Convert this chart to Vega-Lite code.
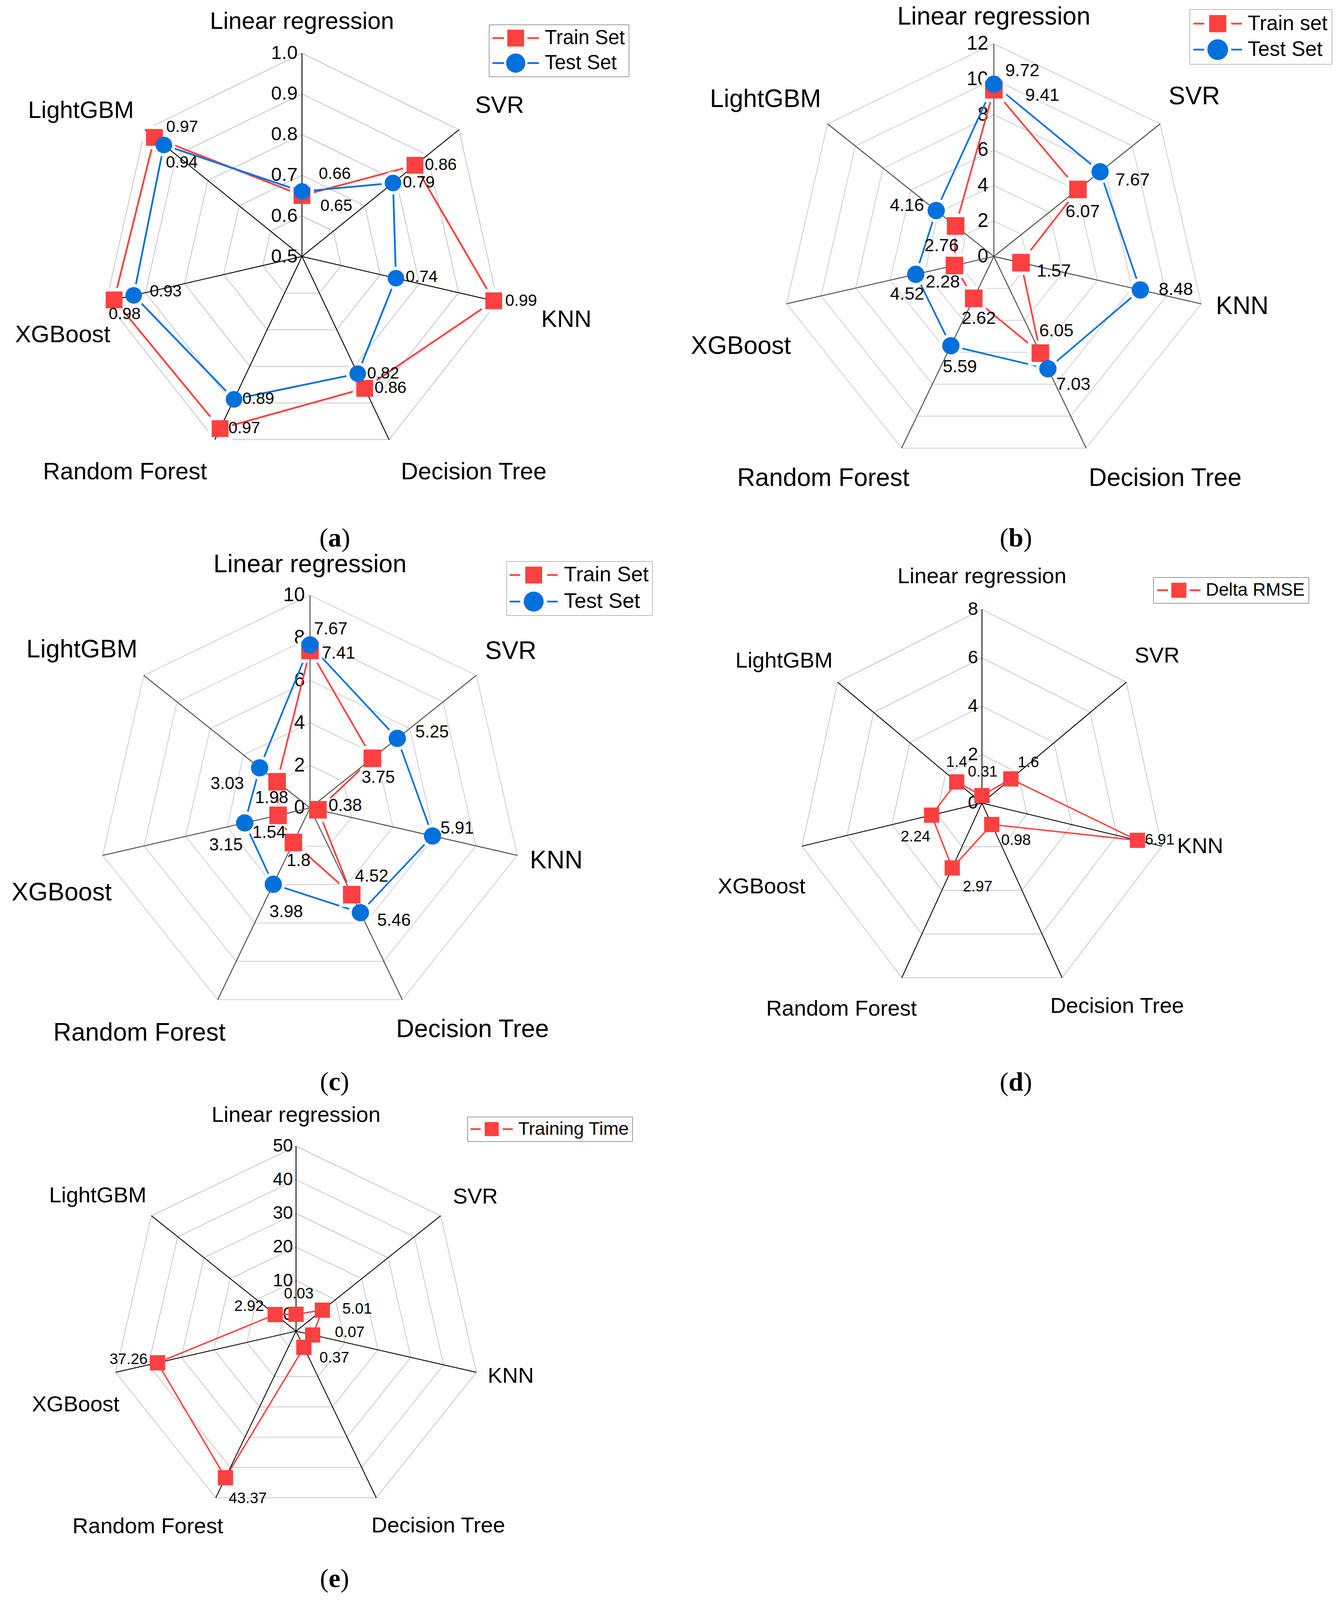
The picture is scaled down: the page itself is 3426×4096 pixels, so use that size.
{
"$schema":"https://vega.github.io/schema/vega-lite/v6.json",
"background":"white",
"padding":0,
"spacing":0,
"columns":2,
"bounds":"flush",
"config":{"view":{"stroke":null},"font":"Liberation Sans"},
"resolve":{"scale":{"color":"independent","shape":"independent"},"legend":{"color":"independent","shape":"independent"}},
"datasets":{
"models":[{"model":"Linear regression"},{"model":"SVR"},{"model":"KNN"},{"model":"Decision Tree"},{"model":"Random Forest"},{"model":"XGBoost"},{"model":"LightGBM"}],
"ta":[{"tick":0.5,"k":[0,1,2,3,4,5,6]},{"tick":0.6,"k":[0,1,2,3,4,5,6]},{"tick":0.7,"k":[0,1,2,3,4,5,6]},{"tick":0.8,"k":[0,1,2,3,4,5,6]},{"tick":0.9,"k":[0,1,2,3,4,5,6]},{"tick":1.0,"k":[0,1,2,3,4,5,6]}],
"tb":[{"tick":0,"k":[0,1,2,3,4,5,6]},{"tick":2,"k":[0,1,2,3,4,5,6]},{"tick":4,"k":[0,1,2,3,4,5,6]},{"tick":6,"k":[0,1,2,3,4,5,6]},{"tick":8,"k":[0,1,2,3,4,5,6]},{"tick":10,"k":[0,1,2,3,4,5,6]},{"tick":12,"k":[0,1,2,3,4,5,6]}],
"tc":[{"tick":0,"k":[0,1,2,3,4,5,6]},{"tick":2,"k":[0,1,2,3,4,5,6]},{"tick":4,"k":[0,1,2,3,4,5,6]},{"tick":6,"k":[0,1,2,3,4,5,6]},{"tick":8,"k":[0,1,2,3,4,5,6]},{"tick":10,"k":[0,1,2,3,4,5,6]}],
"td":[{"tick":0,"k":[0,1,2,3,4,5,6]},{"tick":2,"k":[0,1,2,3,4,5,6]},{"tick":4,"k":[0,1,2,3,4,5,6]},{"tick":6,"k":[0,1,2,3,4,5,6]},{"tick":8,"k":[0,1,2,3,4,5,6]}],
"te":[{"tick":0,"k":[0,1,2,3,4,5,6]},{"tick":10,"k":[0,1,2,3,4,5,6]},{"tick":20,"k":[0,1,2,3,4,5,6]},{"tick":30,"k":[0,1,2,3,4,5,6]},{"tick":40,"k":[0,1,2,3,4,5,6]},{"tick":50,"k":[0,1,2,3,4,5,6]}],
"a":[
{"model":"Linear regression","series":"Train Set","value":0.65},{"model":"SVR","series":"Train Set","value":0.86},{"model":"KNN","series":"Train Set","value":0.99},{"model":"Decision Tree","series":"Train Set","value":0.86},{"model":"Random Forest","series":"Train Set","value":0.97},{"model":"XGBoost","series":"Train Set","value":0.98},{"model":"LightGBM","series":"Train Set","value":0.97},
{"model":"Linear regression","series":"Test Set","value":0.66},{"model":"SVR","series":"Test Set","value":0.79},{"model":"KNN","series":"Test Set","value":0.74},{"model":"Decision Tree","series":"Test Set","value":0.82},{"model":"Random Forest","series":"Test Set","value":0.89},{"model":"XGBoost","series":"Test Set","value":0.93},{"model":"LightGBM","series":"Test Set","value":0.94}],
"b":[
{"model":"Linear regression","series":"Train set","value":9.41},{"model":"SVR","series":"Train set","value":6.07},{"model":"KNN","series":"Train set","value":1.57},{"model":"Decision Tree","series":"Train set","value":6.05},{"model":"Random Forest","series":"Train set","value":2.62},{"model":"XGBoost","series":"Train set","value":2.28},{"model":"LightGBM","series":"Train set","value":2.76},
{"model":"Linear regression","series":"Test Set","value":9.72},{"model":"SVR","series":"Test Set","value":7.67},{"model":"KNN","series":"Test Set","value":8.48},{"model":"Decision Tree","series":"Test Set","value":7.03},{"model":"Random Forest","series":"Test Set","value":5.59},{"model":"XGBoost","series":"Test Set","value":4.52},{"model":"LightGBM","series":"Test Set","value":4.16}],
"c":[
{"model":"Linear regression","series":"Train Set","value":7.41},{"model":"SVR","series":"Train Set","value":3.75},{"model":"KNN","series":"Train Set","value":0.38},{"model":"Decision Tree","series":"Train Set","value":4.52},{"model":"Random Forest","series":"Train Set","value":1.8},{"model":"XGBoost","series":"Train Set","value":1.54},{"model":"LightGBM","series":"Train Set","value":1.98},
{"model":"Linear regression","series":"Test Set","value":7.67},{"model":"SVR","series":"Test Set","value":5.25},{"model":"KNN","series":"Test Set","value":5.91},{"model":"Decision Tree","series":"Test Set","value":5.46},{"model":"Random Forest","series":"Test Set","value":3.98},{"model":"XGBoost","series":"Test Set","value":3.15},{"model":"LightGBM","series":"Test Set","value":3.03}],
"d":[
{"model":"Linear regression","series":"Delta RMSE","value":0.31},{"model":"SVR","series":"Delta RMSE","value":1.6},{"model":"KNN","series":"Delta RMSE","value":6.91},{"model":"Decision Tree","series":"Delta RMSE","value":0.98},{"model":"Random Forest","series":"Delta RMSE","value":2.97},{"model":"XGBoost","series":"Delta RMSE","value":2.24},{"model":"LightGBM","series":"Delta RMSE","value":1.4}],
"e":[
{"model":"Linear regression","series":"Training Time","value":0.03},{"model":"SVR","series":"Training Time","value":5.01},{"model":"KNN","series":"Training Time","value":0.07},{"model":"Decision Tree","series":"Training Time","value":0.37},{"model":"Random Forest","series":"Training Time","value":43.37},{"model":"XGBoost","series":"Training Time","value":37.26},{"model":"LightGBM","series":"Training Time","value":2.92}]
},
"concat":[
{"width":1713,"height":1420,
"encoding":{"x":{"field":"px","type":"quantitative","scale":{"domain":[-1.5043,1.8284],"nice":false,"zero":false},"axis":null},"y":{"field":"py","type":"quantitative","scale":{"domain":[-1.4672,1.262],"nice":false,"zero":false},"axis":null}},
"layer":[
{"data":{"name":"ta"},"transform":[{"filter":"datum.tick>0.55"},{"flatten":["k"]},{"calculate":"(datum.tick-0.5)/0.5","as":"rn"},{"calculate":"datum.rn*sin(2*PI*datum.k/7)","as":"px"},{"calculate":"datum.rn*cos(2*PI*datum.k/7)","as":"py"}],"mark":{"type":"line","interpolate":"linear-closed","color":"#a6a6a6","strokeWidth":1.3},"encoding":{"detail":{"field":"tick","type":"nominal"},"order":{"field":"k","type":"quantitative"}}},
{"data":{"name":"ta"},"transform":[{"calculate":"0","as":"px"},{"calculate":"(datum.tick-0.5)/0.5","as":"py"}],"mark":{"type":"text","align":"right","baseline":"middle","dx":-11,"fontSize":49,"font":"Liberation Sans","color":"black"},"encoding":{"text":{"field":"tick","type":"quantitative","format":".1f"}}},
{"data":{"name":"a"},"transform":[{"filter":"datum.series==='Train Set'"},{"calculate":"indexof(['Linear regression','SVR','KNN','Decision Tree','Random Forest','XGBoost','LightGBM'],datum.model)","as":"k"},{"calculate":"(datum.value-0.5)/0.5","as":"rn"},{"calculate":"datum.rn*sin(2*PI*datum.k/7)","as":"px"},{"calculate":"datum.rn*cos(2*PI*datum.k/7)","as":"py"}],"mark":{"type":"line","interpolate":"linear-closed","strokeWidth":4.5,"color":"#ff4040"},"encoding":{"order":{"field":"k","type":"quantitative"}}},
{"data":{"name":"a"},"transform":[{"filter":"datum.series==='Test Set'"},{"calculate":"indexof(['Linear regression','SVR','KNN','Decision Tree','Random Forest','XGBoost','LightGBM'],datum.model)","as":"k"},{"calculate":"(datum.value-0.5)/0.5","as":"rn"},{"calculate":"datum.rn*sin(2*PI*datum.k/7)","as":"px"},{"calculate":"datum.rn*cos(2*PI*datum.k/7)","as":"py"}],"mark":{"type":"line","interpolate":"linear-closed","strokeWidth":4.5,"color":"#0070dd"},"encoding":{"order":{"field":"k","type":"quantitative"}}},
{"data":{"name":"a"},"transform":[{"filter":"datum.series==='Train Set'"},{"calculate":"indexof(['Linear regression','SVR','KNN','Decision Tree','Random Forest','XGBoost','LightGBM'],datum.model)","as":"k"},{"calculate":"(datum.value-0.5)/0.5","as":"rn"},{"calculate":"datum.rn*sin(2*PI*datum.k/7)","as":"px"},{"calculate":"datum.rn*cos(2*PI*datum.k/7)","as":"py"}],"mark":{"type":"point","shape":"square","filled":true,"opacity":1,"color":"white","size":3700,"strokeWidth":0}},
{"data":{"name":"a"},"transform":[{"filter":"datum.series==='Test Set'"},{"calculate":"indexof(['Linear regression','SVR','KNN','Decision Tree','Random Forest','XGBoost','LightGBM'],datum.model)","as":"k"},{"calculate":"(datum.value-0.5)/0.5","as":"rn"},{"calculate":"datum.rn*sin(2*PI*datum.k/7)","as":"px"},{"calculate":"datum.rn*cos(2*PI*datum.k/7)","as":"py"}],"mark":{"type":"point","shape":"circle","filled":true,"opacity":1,"color":"white","size":3450,"strokeWidth":0}},
{"data":{"name":"models"},"transform":[{"calculate":"indexof(['Linear regression','SVR','KNN','Decision Tree','Random Forest','XGBoost','LightGBM'],datum.model)","as":"k"},{"calculate":"0","as":"px"},{"calculate":"0","as":"py"},{"calculate":"sin(2*PI*datum.k/7)","as":"px2"},{"calculate":"cos(2*PI*datum.k/7)","as":"py2"}],"mark":{"type":"rule","color":"black","strokeWidth":2.3},"encoding":{"x2":{"field":"px2"},"y2":{"field":"py2"}}},
{"data":{"name":"a"},"transform":[{"filter":"datum.series==='Train Set'"},{"calculate":"indexof(['Linear regression','SVR','KNN','Decision Tree','Random Forest','XGBoost','LightGBM'],datum.model)","as":"k"},{"calculate":"(datum.value-0.5)/0.5","as":"rn"},{"calculate":"datum.rn*sin(2*PI*datum.k/7)","as":"px"},{"calculate":"datum.rn*cos(2*PI*datum.k/7)","as":"py"}],"mark":{"type":"point","shape":"square","filled":true,"opacity":1,"color":"#ff4040","size":1850,"strokeWidth":0}},
{"data":{"name":"a"},"transform":[{"filter":"datum.series==='Test Set'"},{"calculate":"indexof(['Linear regression','SVR','KNN','Decision Tree','Random Forest','XGBoost','LightGBM'],datum.model)","as":"k"},{"calculate":"(datum.value-0.5)/0.5","as":"rn"},{"calculate":"datum.rn*sin(2*PI*datum.k/7)","as":"px"},{"calculate":"datum.rn*cos(2*PI*datum.k/7)","as":"py"}],"mark":{"type":"point","shape":"circle","filled":true,"opacity":1,"color":"#0070dd","size":1810,"strokeWidth":0}},
{"data":{"name":"a"},"transform":[{"filter":"false"},{"calculate":"0","as":"px"},{"calculate":"0","as":"py"}],"mark":{"type":"point","filled":true,"opacity":1,"strokeWidth":0},"encoding":{
"color":{"field":"series","type":"nominal","scale":{"domain":["Train Set","Test Set"],"range":["#ff4040","#0070dd"]},"legend":{"orient":"none","legendX":1252,"legendY":63,"title":null,"symbolSize":2601,"symbolOffset":34,"symbolStrokeWidth":0,"symbolOpacity":1,"labelFont":"Liberation Sans","labelFontSize":51,"labelColor":"black","labelOffset":49,"labelLimit":1000,"padding":9,"rowPadding":12,"strokeColor":"#404040","fillColor":"white"}},
"shape":{"field":"series","type":"nominal","scale":{"domain":["Train Set","Test Set"],"range":["M-2.333,-0.089H-1.167V0.089H-2.333Z M-0.842,-0.842H0.842V0.842H-0.842Z M1.167,-0.089H2.333V0.089H1.167Z","M-2.333,-0.089H-1.167V0.089H-2.333Z M1.167,-0.089H2.333V0.089H1.167Z M-0.961,0A0.961,0.961,0,1,0,0.961,0A0.961,0.961,0,1,0,-0.961,0Z"]},"legend":{"orient":"none","legendX":1252,"legendY":63,"title":null,"symbolSize":2601,"symbolOffset":34,"symbolStrokeWidth":0,"symbolOpacity":1,"labelFont":"Liberation Sans","labelFontSize":51,"labelColor":"black","labelOffset":49,"labelLimit":1000,"padding":9,"rowPadding":12,"strokeColor":"#404040","fillColor":"white"}}}},
{"data":{"name":"a"},"transform":[{"calculate":"indexof(['Linear regression','SVR','KNN','Decision Tree','Random Forest','XGBoost','LightGBM'],datum.model)","as":"k"},{"calculate":"(datum.value-0.5)/0.5","as":"rn"},{"calculate":"datum.rn*sin(2*PI*datum.k/7)","as":"bx"},{"calculate":"datum.rn*cos(2*PI*datum.k/7)","as":"by"},{"calculate":"datum.k+(datum.series==='Test Set'?7:0)","as":"i"},{"calculate":"datum.bx+[88,66,70,66,62,27,71,84,66,66,65,62,82,46][datum.i]/514.0","as":"px"},{"calculate":"datum.by-[26,-1,0,-1,-1,36,-27,-45,-1,-3,-1,-1,-10,45][datum.i]/520.3","as":"py"}],"mark":{"type":"text","fontSize":42,"font":"Liberation Sans","color":"black"},"encoding":{"text":{"field":"value","type":"nominal"}}},
{"data":{"name":"models"},"transform":[{"calculate":"indexof(['Linear regression','SVR','KNN','Decision Tree','Random Forest','XGBoost','LightGBM'],datum.model)","as":"k"},{"calculate":"[0,0.9843,1.3171,0.8554,-0.8815,-1.1916,-1.101][datum.k]","as":"px"},{"calculate":"[1.1552,0.7414,-0.3121,-1.0621,-1.0621,-0.3879,0.7155][datum.k]","as":"py"}],"mark":{"type":"text","fontSize":61,"font":"Liberation Sans","color":"black"},"encoding":{"text":{"field":"model","type":"nominal"}}},
{"data":{"values":[{"caption":"a"}]},"transform":[{"calculate":"0.1637","as":"px"},{"calculate":"-1.4274","as":"py"}],"mark":{"type":"text","font":"Liberation Serif","fontSize":68,"fontWeight":"bold","baseline":"alphabetic","align":"center","color":"black"},"encoding":{"text":{"field":"caption","type":"nominal"}}},
{"data":{"values":[{"caption":"a"}]},"transform":[{"calculate":"0.1637","as":"px"},{"calculate":"-1.4274","as":"py"}],"mark":{"type":"text","font":"Liberation Serif","fontSize":68,"baseline":"alphabetic","align":"right","dx":-17,"color":"black"},"encoding":{"text":{"value":"("}}},
{"data":{"values":[{"caption":"a"}]},"transform":[{"calculate":"0.1637","as":"px"},{"calculate":"-1.4274","as":"py"}],"mark":{"type":"text","font":"Liberation Serif","fontSize":68,"baseline":"alphabetic","align":"left","dx":17,"color":"black"},"encoding":{"text":{"value":")"}}}
]},
{"width":1713,"height":1420,
"encoding":{"x":{"field":"px","type":"quantitative","scale":{"domain":[-1.5276,1.6184],"nice":false,"zero":false},"axis":null},"y":{"field":"py","type":"quantitative","scale":{"domain":[-1.402,1.2059],"nice":false,"zero":false},"axis":null}},
"layer":[
{"data":{"name":"tb"},"transform":[{"filter":"datum.tick>0"},{"flatten":["k"]},{"calculate":"datum.tick/12","as":"rn"},{"calculate":"datum.rn*sin(2*PI*datum.k/7)","as":"px"},{"calculate":"datum.rn*cos(2*PI*datum.k/7)","as":"py"}],"mark":{"type":"line","interpolate":"linear-closed","color":"#d4d4d4","strokeWidth":2.4},"encoding":{"detail":{"field":"tick","type":"nominal"},"order":{"field":"k","type":"quantitative"}}},
{"data":{"name":"tb"},"transform":[{"calculate":"0","as":"px"},{"calculate":"datum.tick/12","as":"py"}],"mark":{"type":"text","align":"right","baseline":"middle","dx":-14,"fontSize":50,"font":"Liberation Sans","color":"black"},"encoding":{"text":{"field":"tick","type":"quantitative","format":"d"}}},
{"data":{"name":"b"},"transform":[{"filter":"datum.series==='Train set'"},{"calculate":"indexof(['Linear regression','SVR','KNN','Decision Tree','Random Forest','XGBoost','LightGBM'],datum.model)","as":"k"},{"calculate":"datum.value/12","as":"rn"},{"calculate":"datum.rn*sin(2*PI*datum.k/7)","as":"px"},{"calculate":"datum.rn*cos(2*PI*datum.k/7)","as":"py"}],"mark":{"type":"line","interpolate":"linear-closed","strokeWidth":4.2,"color":"#ff4040"},"encoding":{"order":{"field":"k","type":"quantitative"}}},
{"data":{"name":"b"},"transform":[{"filter":"datum.series==='Test Set'"},{"calculate":"indexof(['Linear regression','SVR','KNN','Decision Tree','Random Forest','XGBoost','LightGBM'],datum.model)","as":"k"},{"calculate":"datum.value/12","as":"rn"},{"calculate":"datum.rn*sin(2*PI*datum.k/7)","as":"px"},{"calculate":"datum.rn*cos(2*PI*datum.k/7)","as":"py"}],"mark":{"type":"line","interpolate":"linear-closed","strokeWidth":4.2,"color":"#0070dd"},"encoding":{"order":{"field":"k","type":"quantitative"}}},
{"data":{"name":"b"},"transform":[{"filter":"datum.series==='Train set'"},{"calculate":"indexof(['Linear regression','SVR','KNN','Decision Tree','Random Forest','XGBoost','LightGBM'],datum.model)","as":"k"},{"calculate":"datum.value/12","as":"rn"},{"calculate":"datum.rn*sin(2*PI*datum.k/7)","as":"px"},{"calculate":"datum.rn*cos(2*PI*datum.k/7)","as":"py"}],"mark":{"type":"point","shape":"square","filled":true,"opacity":1,"color":"white","size":3970,"strokeWidth":0}},
{"data":{"name":"b"},"transform":[{"filter":"datum.series==='Test Set'"},{"calculate":"indexof(['Linear regression','SVR','KNN','Decision Tree','Random Forest','XGBoost','LightGBM'],datum.model)","as":"k"},{"calculate":"datum.value/12","as":"rn"},{"calculate":"datum.rn*sin(2*PI*datum.k/7)","as":"px"},{"calculate":"datum.rn*cos(2*PI*datum.k/7)","as":"py"}],"mark":{"type":"point","shape":"circle","filled":true,"opacity":1,"color":"white","size":3630,"strokeWidth":0}},
{"data":{"name":"models"},"transform":[{"calculate":"indexof(['Linear regression','SVR','KNN','Decision Tree','Random Forest','XGBoost','LightGBM'],datum.model)","as":"k"},{"calculate":"0","as":"px"},{"calculate":"0","as":"py"},{"calculate":"sin(2*PI*datum.k/7)","as":"px2"},{"calculate":"cos(2*PI*datum.k/7)","as":"py2"}],"mark":{"type":"rule","color":"#555555","strokeWidth":2.6},"encoding":{"x2":{"field":"px2"},"y2":{"field":"py2"}}},
{"data":{"name":"b"},"transform":[{"filter":"datum.series==='Train set'"},{"calculate":"indexof(['Linear regression','SVR','KNN','Decision Tree','Random Forest','XGBoost','LightGBM'],datum.model)","as":"k"},{"calculate":"datum.value/12","as":"rn"},{"calculate":"datum.rn*sin(2*PI*datum.k/7)","as":"px"},{"calculate":"datum.rn*cos(2*PI*datum.k/7)","as":"py"}],"mark":{"type":"point","shape":"square","filled":true,"opacity":1,"color":"#ff4040","size":2025,"strokeWidth":0}},
{"data":{"name":"b"},"transform":[{"filter":"datum.series==='Test Set'"},{"calculate":"indexof(['Linear regression','SVR','KNN','Decision Tree','Random Forest','XGBoost','LightGBM'],datum.model)","as":"k"},{"calculate":"datum.value/12","as":"rn"},{"calculate":"datum.rn*sin(2*PI*datum.k/7)","as":"px"},{"calculate":"datum.rn*cos(2*PI*datum.k/7)","as":"py"}],"mark":{"type":"point","shape":"circle","filled":true,"opacity":1,"color":"#0070dd","size":1963,"strokeWidth":0}},
{"data":{"name":"b"},"transform":[{"filter":"false"},{"calculate":"0","as":"px"},{"calculate":"0","as":"py"}],"mark":{"type":"point","filled":true,"opacity":1,"strokeWidth":0},"encoding":{
"color":{"field":"series","type":"nominal","scale":{"domain":["Train set","Test Set"],"range":["#ff4040","#0070dd"]},"legend":{"orient":"none","legendX":1333,"legendY":24,"title":null,"symbolSize":2809,"symbolOffset":35.5,"symbolStrokeWidth":0,"symbolOpacity":1,"labelFont":"Liberation Sans","labelFontSize":53,"labelColor":"black","labelOffset":50.5,"labelLimit":1000,"padding":10,"rowPadding":12.5,"strokeColor":"#7f7f7f","fillColor":"white"}},
"shape":{"field":"series","type":"nominal","scale":{"domain":["Train set","Test Set"],"range":["M-2.34,-0.084H-1.301V0.084H-2.34Z M-0.831,-0.831H0.831V0.831H-0.831Z M1.301,-0.084H2.34V0.084H1.301Z","M-2.34,-0.084H-1.301V0.084H-2.34Z M1.301,-0.084H2.34V0.084H1.301Z M-0.999,0A0.999,0.999,0,1,0,0.999,0A0.999,0.999,0,1,0,-0.999,0Z"]},"legend":{"orient":"none","legendX":1333,"legendY":24,"title":null,"symbolSize":2809,"symbolOffset":35.5,"symbolStrokeWidth":0,"symbolOpacity":1,"labelFont":"Liberation Sans","labelFontSize":53,"labelColor":"black","labelOffset":50.5,"labelLimit":1000,"padding":10,"rowPadding":12.5,"strokeColor":"#7f7f7f","fillColor":"white"}}}},
{"data":{"name":"b"},"transform":[{"calculate":"indexof(['Linear regression','SVR','KNN','Decision Tree','Random Forest','XGBoost','LightGBM'],datum.model)","as":"k"},{"calculate":"datum.value/12","as":"rn"},{"calculate":"datum.rn*sin(2*PI*datum.k/7)","as":"bx"},{"calculate":"datum.rn*cos(2*PI*datum.k/7)","as":"by"},{"calculate":"datum.k+(datum.series==='Test Set'?7:0)","as":"i"},{"calculate":"datum.bx+[124,12,84,41,13,-30,-36,73,83,91,65,23,-22,-75][datum.i]/544.5","as":"px"},{"calculate":"datum.by-[14,57,22,-57,51,42,50,-35,21,-1,40,54,51,-13][datum.i]/544.5","as":"py"}],"mark":{"type":"text","fontSize":45,"font":"Liberation Sans","color":"black"},"encoding":{"text":{"field":"value","type":"nominal"}}},
{"data":{"name":"models"},"transform":[{"calculate":"indexof(['Linear regression','SVR','KNN','Decision Tree','Random Forest','XGBoost','LightGBM'],datum.model)","as":"k"},{"calculate":"[0,0.9423,1.168,0.8056,-0.8023,-1.1895,-1.0741][datum.k]","as":"px"},{"calculate":"[1.1252,0.7496,-0.2356,-1.0445,-1.0445,-0.4234,0.7381][datum.k]","as":"py"}],"mark":{"type":"text","fontSize":64,"font":"Liberation Sans","color":"black"},"encoding":{"text":{"field":"model","type":"nominal"}}},
{"data":{"values":[{"caption":"b"}]},"transform":[{"calculate":"0.1038","as":"px"},{"calculate":"-1.364","as":"py"}],"mark":{"type":"text","font":"Liberation Serif","fontSize":68,"fontWeight":"bold","baseline":"alphabetic","align":"center","color":"black"},"encoding":{"text":{"field":"caption","type":"nominal"}}},
{"data":{"values":[{"caption":"b"}]},"transform":[{"calculate":"0.1038","as":"px"},{"calculate":"-1.364","as":"py"}],"mark":{"type":"text","font":"Liberation Serif","fontSize":68,"baseline":"alphabetic","align":"right","dx":-19,"color":"black"},"encoding":{"text":{"value":"("}}},
{"data":{"values":[{"caption":"b"}]},"transform":[{"calculate":"0.1038","as":"px"},{"calculate":"-1.364","as":"py"}],"mark":{"type":"text","font":"Liberation Serif","fontSize":68,"baseline":"alphabetic","align":"left","dx":19,"color":"black"},"encoding":{"text":{"value":")"}}}
]},
{"width":1713,"height":1400,
"encoding":{"x":{"field":"px","type":"quantitative","scale":{"domain":[-1.4579,1.6882],"nice":false,"zero":false},"axis":null},"y":{"field":"py","type":"quantitative","scale":{"domain":[-1.3802,1.191],"nice":false,"zero":false},"axis":null}},
"layer":[
{"data":{"name":"tc"},"transform":[{"filter":"datum.tick>0"},{"flatten":["k"]},{"calculate":"datum.tick/10","as":"rn"},{"calculate":"datum.rn*sin(2*PI*datum.k/7)","as":"px"},{"calculate":"datum.rn*cos(2*PI*datum.k/7)","as":"py"}],"mark":{"type":"line","interpolate":"linear-closed","color":"#d4d4d4","strokeWidth":2.4},"encoding":{"detail":{"field":"tick","type":"nominal"},"order":{"field":"k","type":"quantitative"}}},
{"data":{"name":"tc"},"transform":[{"calculate":"0","as":"px"},{"calculate":"datum.tick/10","as":"py"}],"mark":{"type":"text","align":"right","baseline":"middle","dx":-13,"fontSize":50,"font":"Liberation Sans","color":"black"},"encoding":{"text":{"field":"tick","type":"quantitative","format":"d"}}},
{"data":{"name":"c"},"transform":[{"filter":"datum.series==='Train Set'"},{"calculate":"indexof(['Linear regression','SVR','KNN','Decision Tree','Random Forest','XGBoost','LightGBM'],datum.model)","as":"k"},{"calculate":"datum.value/10","as":"rn"},{"calculate":"datum.rn*sin(2*PI*datum.k/7)","as":"px"},{"calculate":"datum.rn*cos(2*PI*datum.k/7)","as":"py"}],"mark":{"type":"line","interpolate":"linear-closed","strokeWidth":4.2,"color":"#ff4040"},"encoding":{"order":{"field":"k","type":"quantitative"}}},
{"data":{"name":"c"},"transform":[{"filter":"datum.series==='Test Set'"},{"calculate":"indexof(['Linear regression','SVR','KNN','Decision Tree','Random Forest','XGBoost','LightGBM'],datum.model)","as":"k"},{"calculate":"datum.value/10","as":"rn"},{"calculate":"datum.rn*sin(2*PI*datum.k/7)","as":"px"},{"calculate":"datum.rn*cos(2*PI*datum.k/7)","as":"py"}],"mark":{"type":"line","interpolate":"linear-closed","strokeWidth":4.2,"color":"#0070dd"},"encoding":{"order":{"field":"k","type":"quantitative"}}},
{"data":{"name":"c"},"transform":[{"filter":"datum.series==='Train Set'"},{"calculate":"indexof(['Linear regression','SVR','KNN','Decision Tree','Random Forest','XGBoost','LightGBM'],datum.model)","as":"k"},{"calculate":"datum.value/10","as":"rn"},{"calculate":"datum.rn*sin(2*PI*datum.k/7)","as":"px"},{"calculate":"datum.rn*cos(2*PI*datum.k/7)","as":"py"}],"mark":{"type":"point","shape":"square","filled":true,"opacity":1,"color":"white","size":3970,"strokeWidth":0}},
{"data":{"name":"c"},"transform":[{"filter":"datum.series==='Test Set'"},{"calculate":"indexof(['Linear regression','SVR','KNN','Decision Tree','Random Forest','XGBoost','LightGBM'],datum.model)","as":"k"},{"calculate":"datum.value/10","as":"rn"},{"calculate":"datum.rn*sin(2*PI*datum.k/7)","as":"px"},{"calculate":"datum.rn*cos(2*PI*datum.k/7)","as":"py"}],"mark":{"type":"point","shape":"circle","filled":true,"opacity":1,"color":"white","size":3630,"strokeWidth":0}},
{"data":{"name":"models"},"transform":[{"calculate":"indexof(['Linear regression','SVR','KNN','Decision Tree','Random Forest','XGBoost','LightGBM'],datum.model)","as":"k"},{"calculate":"0","as":"px"},{"calculate":"0","as":"py"},{"calculate":"sin(2*PI*datum.k/7)","as":"px2"},{"calculate":"cos(2*PI*datum.k/7)","as":"py2"}],"mark":{"type":"rule","color":"#555555","strokeWidth":2.6},"encoding":{"x2":{"field":"px2"},"y2":{"field":"py2"}}},
{"data":{"name":"c"},"transform":[{"filter":"datum.series==='Train Set'"},{"calculate":"indexof(['Linear regression','SVR','KNN','Decision Tree','Random Forest','XGBoost','LightGBM'],datum.model)","as":"k"},{"calculate":"datum.value/10","as":"rn"},{"calculate":"datum.rn*sin(2*PI*datum.k/7)","as":"px"},{"calculate":"datum.rn*cos(2*PI*datum.k/7)","as":"py"}],"mark":{"type":"point","shape":"square","filled":true,"opacity":1,"color":"#ff4040","size":2025,"strokeWidth":0}},
{"data":{"name":"c"},"transform":[{"filter":"datum.series==='Test Set'"},{"calculate":"indexof(['Linear regression','SVR','KNN','Decision Tree','Random Forest','XGBoost','LightGBM'],datum.model)","as":"k"},{"calculate":"datum.value/10","as":"rn"},{"calculate":"datum.rn*sin(2*PI*datum.k/7)","as":"px"},{"calculate":"datum.rn*cos(2*PI*datum.k/7)","as":"py"}],"mark":{"type":"point","shape":"circle","filled":true,"opacity":1,"color":"#0070dd","size":1963,"strokeWidth":0}},
{"data":{"name":"c"},"transform":[{"filter":"false"},{"calculate":"0","as":"px"},{"calculate":"0","as":"py"}],"mark":{"type":"point","filled":true,"opacity":1,"strokeWidth":0},"encoding":{
"color":{"field":"series","type":"nominal","scale":{"domain":["Train Set","Test Set"],"range":["#ff4040","#0070dd"]},"legend":{"orient":"none","legendX":1297,"legendY":17,"title":null,"symbolSize":2916,"symbolOffset":34.5,"symbolStrokeWidth":0,"symbolOpacity":1,"labelFont":"Liberation Sans","labelFontSize":54,"labelColor":"black","labelOffset":50.5,"labelLimit":1000,"padding":8,"rowPadding":14,"strokeColor":"#7f7f7f","fillColor":"white"}},
"shape":{"field":"series","type":"nominal","scale":{"domain":["Train Set","Test Set"],"range":["M-2.278,-0.084H-1.276V0.084H-2.278Z M-0.797,-0.797H0.797V0.797H-0.797Z M1.276,-0.084H2.278V0.084H1.276Z","M-2.278,-0.084H-1.276V0.084H-2.278Z M1.276,-0.084H2.278V0.084H1.276Z M-0.945,0A0.945,0.945,0,1,0,0.945,0A0.945,0.945,0,1,0,-0.945,0Z"]},"legend":{"orient":"none","legendX":1297,"legendY":17,"title":null,"symbolSize":2916,"symbolOffset":34.5,"symbolStrokeWidth":0,"symbolOpacity":1,"labelFont":"Liberation Sans","labelFontSize":54,"labelColor":"black","labelOffset":50.5,"labelLimit":1000,"padding":8,"rowPadding":14,"strokeColor":"#7f7f7f","fillColor":"white"}}}},
{"data":{"name":"c"},"transform":[{"calculate":"indexof(['Linear regression','SVR','KNN','Decision Tree','Random Forest','XGBoost','LightGBM'],datum.model)","as":"k"},{"calculate":"datum.value/10","as":"rn"},{"calculate":"datum.rn*sin(2*PI*datum.k/7)","as":"bx"},{"calculate":"datum.rn*cos(2*PI*datum.k/7)","as":"by"},{"calculate":"datum.k+(datum.series==='Test Set'?7:0)","as":"i"},{"calculate":"datum.bx+[73,15,70,51,13,-23,-14,53,89,63,86,33,-48,-83][datum.i]/544.5","as":"px"},{"calculate":"datum.by-[8,50,-10,-46,47,45,42,-40,-15,-19,21,71,57,41][datum.i]/544.5","as":"py"}],"mark":{"type":"text","fontSize":44,"font":"Liberation Sans","color":"black"},"encoding":{"text":{"field":"value","type":"nominal"}}},
{"data":{"name":"models"},"transform":[{"calculate":"indexof(['Linear regression','SVR','KNN','Decision Tree','Random Forest','XGBoost','LightGBM'],datum.model)","as":"k"},{"calculate":"[0,0.944,1.1582,0.7644,-0.8023,-1.168,-1.0725][datum.k]","as":"px"},{"calculate":"[1.1433,0.7364,-0.2488,-1.0428,-1.0593,-0.4003,0.743][datum.k]","as":"py"}],"mark":{"type":"text","fontSize":64,"font":"Liberation Sans","color":"black"},"encoding":{"text":{"field":"model","type":"nominal"}}},
{"data":{"values":[{"caption":"c"}]},"transform":[{"calculate":"0.1153","as":"px"},{"calculate":"-1.3278","as":"py"}],"mark":{"type":"text","font":"Liberation Serif","fontSize":68,"fontWeight":"bold","baseline":"alphabetic","align":"center","color":"black"},"encoding":{"text":{"field":"caption","type":"nominal"}}},
{"data":{"values":[{"caption":"c"}]},"transform":[{"calculate":"0.1153","as":"px"},{"calculate":"-1.3278","as":"py"}],"mark":{"type":"text","font":"Liberation Serif","fontSize":68,"baseline":"alphabetic","align":"right","dx":-15,"color":"black"},"encoding":{"text":{"value":"("}}},
{"data":{"values":[{"caption":"c"}]},"transform":[{"calculate":"0.1153","as":"px"},{"calculate":"-1.3278","as":"py"}],"mark":{"type":"text","font":"Liberation Serif","fontSize":68,"baseline":"alphabetic","align":"left","dx":15,"color":"black"},"encoding":{"text":{"value":")"}}}
]},
{"width":1713,"height":1400,
"encoding":{"x":{"field":"px","type":"quantitative","scale":{"domain":[-1.6952,1.9287],"nice":false,"zero":false},"axis":null},"y":{"field":"py","type":"quantitative","scale":{"domain":[-1.5405,1.2821],"nice":false,"zero":false},"axis":null}},
"layer":[
{"data":{"name":"td"},"transform":[{"filter":"datum.tick>0"},{"flatten":["k"]},{"calculate":"datum.tick/8","as":"rn"},{"calculate":"datum.rn*sin(2*PI*datum.k/7)","as":"px"},{"calculate":"datum.rn*cos(2*PI*datum.k/7)","as":"py"}],"mark":{"type":"line","interpolate":"linear-closed","color":"#a6a6a6","strokeWidth":1.2},"encoding":{"detail":{"field":"tick","type":"nominal"},"order":{"field":"k","type":"quantitative"}}},
{"data":{"name":"models"},"transform":[{"calculate":"indexof(['Linear regression','SVR','KNN','Decision Tree','Random Forest','XGBoost','LightGBM'],datum.model)","as":"k"},{"calculate":"0","as":"px"},{"calculate":"0","as":"py"},{"calculate":"sin(2*PI*datum.k/7)","as":"px2"},{"calculate":"cos(2*PI*datum.k/7)","as":"py2"}],"mark":{"type":"rule","color":"black","strokeWidth":2.2},"encoding":{"x2":{"field":"px2"},"y2":{"field":"py2"}}},
{"data":{"name":"td"},"transform":[{"calculate":"0","as":"px"},{"calculate":"datum.tick/8","as":"py"}],"mark":{"type":"text","align":"right","baseline":"middle","dx":-10,"fontSize":47,"font":"Liberation Sans","color":"black"},"encoding":{"text":{"field":"tick","type":"quantitative","format":"d"}}},
{"data":{"name":"d"},"transform":[{"calculate":"indexof(['Linear regression','SVR','KNN','Decision Tree','Random Forest','XGBoost','LightGBM'],datum.model)","as":"k"},{"calculate":"datum.value/8","as":"rn"},{"calculate":"datum.rn*sin(2*PI*datum.k/7)","as":"px"},{"calculate":"datum.rn*cos(2*PI*datum.k/7)","as":"py"}],"mark":{"type":"line","interpolate":"linear-closed","strokeWidth":3.6,"color":"#ff4040"},"encoding":{"order":{"field":"k","type":"quantitative"}}},
{"data":{"name":"d"},"transform":[{"calculate":"indexof(['Linear regression','SVR','KNN','Decision Tree','Random Forest','XGBoost','LightGBM'],datum.model)","as":"k"},{"calculate":"datum.value/8","as":"rn"},{"calculate":"datum.rn*sin(2*PI*datum.k/7)","as":"px"},{"calculate":"datum.rn*cos(2*PI*datum.k/7)","as":"py"}],"mark":{"type":"point","shape":"square","filled":true,"opacity":1,"color":"#ff4040","size":1521,"strokeWidth":0}},
{"data":{"name":"d"},"transform":[{"filter":"false"},{"calculate":"0","as":"px"},{"calculate":"0","as":"py"}],"mark":{"type":"point","filled":true,"opacity":1,"strokeWidth":0},"encoding":{
"color":{"field":"series","type":"nominal","scale":{"domain":["Delta RMSE"],"range":["#ff4040"]},"legend":{"orient":"none","legendX":1240,"legendY":58,"title":null,"symbolSize":2116,"symbolOffset":32.5,"symbolStrokeWidth":0,"symbolOpacity":1,"labelFont":"Liberation Sans","labelFontSize":46,"labelColor":"black","labelOffset":46,"labelLimit":1000,"padding":10,"strokeColor":"#404040","fillColor":"white"}},
"shape":{"field":"series","type":"nominal","scale":{"domain":["Delta RMSE"],"range":["M-2.413,-0.097H-1.194V0.097H-2.413Z M-0.837,-0.837H0.837V0.837H-0.837Z M1.194,-0.097H2.413V0.097H1.194Z"]},"legend":{"orient":"none","legendX":1240,"legendY":58,"title":null,"symbolSize":2116,"symbolOffset":32.5,"symbolStrokeWidth":0,"symbolOpacity":1,"labelFont":"Liberation Sans","labelFontSize":46,"labelColor":"black","labelOffset":46,"labelLimit":1000,"padding":10,"strokeColor":"#404040","fillColor":"white"}}}},
{"data":{"name":"d"},"transform":[{"calculate":"indexof(['Linear regression','SVR','KNN','Decision Tree','Random Forest','XGBoost','LightGBM'],datum.model)","as":"k"},{"calculate":"datum.value/8","as":"rn"},{"calculate":"datum.rn*sin(2*PI*datum.k/7)","as":"bx"},{"calculate":"datum.rn*cos(2*PI*datum.k/7)","as":"by"},{"calculate":"datum.bx+[2,45,57,62,65,-41,0][datum.k]/472.7","as":"px"},{"calculate":"datum.by-[-61,-42,-1,40,48,55,-51][datum.k]/496.0","as":"py"}],"mark":{"type":"text","fontSize":39,"font":"Liberation Sans","color":"black"},"encoding":{"text":{"field":"value","type":"nominal"}}},
{"data":{"name":"models"},"transform":[{"calculate":"indexof(['Linear regression','SVR','KNN','Decision Tree','Random Forest','XGBoost','LightGBM'],datum.model)","as":"k"},{"calculate":"[0,0.9488,1.1822,0.7324,-0.7609,-1.1935,-1.0721][datum.k]","as":"px"},{"calculate":"[1.17,0.7595,-0.2242,-1.0488,-1.0633,-0.4322,0.7342][datum.k]","as":"py"}],"mark":{"type":"text","fontSize":56,"font":"Liberation Sans","color":"black"},"encoding":{"text":{"field":"model","type":"nominal"}}},
{"data":{"values":[{"caption":"d"}]},"transform":[{"calculate":"0.184","as":"px"},{"calculate":"-1.4831","as":"py"}],"mark":{"type":"text","font":"Liberation Serif","fontSize":68,"fontWeight":"bold","baseline":"alphabetic","align":"center","color":"black"},"encoding":{"text":{"field":"caption","type":"nominal"}}},
{"data":{"values":[{"caption":"d"}]},"transform":[{"calculate":"0.184","as":"px"},{"calculate":"-1.4831","as":"py"}],"mark":{"type":"text","font":"Liberation Serif","fontSize":68,"baseline":"alphabetic","align":"right","dx":-19,"color":"black"},"encoding":{"text":{"value":"("}}},
{"data":{"values":[{"caption":"d"}]},"transform":[{"calculate":"0.184","as":"px"},{"calculate":"-1.4831","as":"py"}],"mark":{"type":"text","font":"Liberation Serif","fontSize":68,"baseline":"alphabetic","align":"left","dx":19,"color":"black"},"encoding":{"text":{"value":")"}}}
]},
{"width":1713,"height":1276,
"encoding":{"x":{"field":"px","type":"quantitative","scale":{"domain":[-1.6005,2.0165],"nice":false,"zero":false},"axis":null},"y":{"field":"py","type":"quantitative","scale":{"domain":[-1.4533,1.2409],"nice":false,"zero":false},"axis":null}},
"layer":[
{"data":{"name":"te"},"transform":[{"flatten":["k"]},{"calculate":"(datum.tick+5)/55","as":"rn"},{"calculate":"datum.rn*sin(2*PI*datum.k/7)","as":"px"},{"calculate":"datum.rn*cos(2*PI*datum.k/7)","as":"py"}],"mark":{"type":"line","interpolate":"linear-closed","color":"#a6a6a6","strokeWidth":1.2},"encoding":{"detail":{"field":"tick","type":"nominal"},"order":{"field":"k","type":"quantitative"}}},
{"data":{"name":"models"},"transform":[{"calculate":"indexof(['Linear regression','SVR','KNN','Decision Tree','Random Forest','XGBoost','LightGBM'],datum.model)","as":"k"},{"calculate":"0","as":"px"},{"calculate":"0","as":"py"},{"calculate":"sin(2*PI*datum.k/7)","as":"px2"},{"calculate":"cos(2*PI*datum.k/7)","as":"py2"}],"mark":{"type":"rule","color":"black","strokeWidth":2.2},"encoding":{"x2":{"field":"px2"},"y2":{"field":"py2"}}},
{"data":{"name":"te"},"transform":[{"calculate":"0","as":"px"},{"calculate":"(datum.tick+5)/55","as":"py"}],"mark":{"type":"text","align":"right","baseline":"middle","dx":-8,"fontSize":46,"font":"Liberation Sans","color":"black"},"encoding":{"text":{"field":"tick","type":"quantitative","format":"d"}}},
{"data":{"name":"e"},"transform":[{"calculate":"indexof(['Linear regression','SVR','KNN','Decision Tree','Random Forest','XGBoost','LightGBM'],datum.model)","as":"k"},{"calculate":"(datum.value+5)/55","as":"rn"},{"calculate":"datum.rn*sin(2*PI*datum.k/7)","as":"px"},{"calculate":"datum.rn*cos(2*PI*datum.k/7)","as":"py"}],"mark":{"type":"line","interpolate":"linear-closed","strokeWidth":3.6,"color":"#ff4040"},"encoding":{"order":{"field":"k","type":"quantitative"}}},
{"data":{"name":"e"},"transform":[{"calculate":"indexof(['Linear regression','SVR','KNN','Decision Tree','Random Forest','XGBoost','LightGBM'],datum.model)","as":"k"},{"calculate":"(datum.value+5)/55","as":"rn"},{"calculate":"datum.rn*sin(2*PI*datum.k/7)","as":"px"},{"calculate":"datum.rn*cos(2*PI*datum.k/7)","as":"py"}],"mark":{"type":"point","shape":"square","filled":true,"opacity":1,"color":"#ff4040","size":1521,"strokeWidth":0}},
{"data":{"name":"e"},"transform":[{"filter":"false"},{"calculate":"0","as":"px"},{"calculate":"0","as":"py"}],"mark":{"type":"point","filled":true,"opacity":1,"strokeWidth":0},"encoding":{
"color":{"field":"series","type":"nominal","scale":{"domain":["Training Time"],"range":["#ff4040"]},"legend":{"orient":"none","legendX":1197,"legendY":39,"title":null,"symbolSize":2209,"symbolOffset":30.5,"symbolStrokeWidth":0,"symbolOpacity":1,"labelFont":"Liberation Sans","labelFontSize":47,"labelColor":"black","labelOffset":44.5,"labelLimit":1000,"padding":8,"strokeColor":"#404040","fillColor":"white"}},
"shape":{"field":"series","type":"nominal","scale":{"domain":["Training Time"],"range":["M-2.298,-0.097H-1.195V0.097H-2.298Z M-0.765,-0.765H0.765V0.765H-0.765Z M1.195,-0.097H2.298V0.097H1.195Z"]},"legend":{"orient":"none","legendX":1197,"legendY":39,"title":null,"symbolSize":2209,"symbolOffset":30.5,"symbolStrokeWidth":0,"symbolOpacity":1,"labelFont":"Liberation Sans","labelFontSize":47,"labelColor":"black","labelOffset":44.5,"labelLimit":1000,"padding":8,"strokeColor":"#404040","fillColor":"white"}}}},
{"data":{"name":"e"},"transform":[{"calculate":"indexof(['Linear regression','SVR','KNN','Decision Tree','Random Forest','XGBoost','LightGBM'],datum.model)","as":"k"},{"calculate":"(datum.value+5)/55","as":"rn"},{"calculate":"datum.rn*sin(2*PI*datum.k/7)","as":"bx"},{"calculate":"datum.rn*cos(2*PI*datum.k/7)","as":"by"},{"calculate":"datum.bx+[7,89,95,78,57,-74,-67][datum.k]/473.6","as":"px"},{"calculate":"datum.by-[-52,-3,-6,27,53,-9,-21][datum.k]/473.6","as":"py"}],"mark":{"type":"text","fontSize":39,"font":"Liberation Sans","color":"black"},"encoding":{"text":{"field":"value","type":"nominal"}}},
{"data":{"name":"models"},"transform":[{"calculate":"indexof(['Linear regression','SVR','KNN','Decision Tree','Random Forest','XGBoost','LightGBM'],datum.model)","as":"k"},{"calculate":"[0,0.9697,1.161,0.7689,-0.8011,-1.1913,-1.072][datum.k]","as":"px"},{"calculate":"[1.1667,0.7254,-0.2443,-1.053,-1.0568,-0.3977,0.7311][datum.k]","as":"py"}],"mark":{"type":"text","fontSize":56,"font":"Liberation Sans","color":"black"},"encoding":{"text":{"field":"model","type":"nominal"}}},
{"data":{"values":[{"caption":"e"}]},"transform":[{"calculate":"0.2082","as":"px"},{"calculate":"-1.3826","as":"py"}],"mark":{"type":"text","font":"Liberation Serif","fontSize":68,"fontWeight":"bold","baseline":"alphabetic","align":"center","color":"black"},"encoding":{"text":{"field":"caption","type":"nominal"}}},
{"data":{"values":[{"caption":"e"}]},"transform":[{"calculate":"0.2082","as":"px"},{"calculate":"-1.3826","as":"py"}],"mark":{"type":"text","font":"Liberation Serif","fontSize":68,"baseline":"alphabetic","align":"right","dx":-15,"color":"black"},"encoding":{"text":{"value":"("}}},
{"data":{"values":[{"caption":"e"}]},"transform":[{"calculate":"0.2082","as":"px"},{"calculate":"-1.3826","as":"py"}],"mark":{"type":"text","font":"Liberation Serif","fontSize":68,"baseline":"alphabetic","align":"left","dx":15,"color":"black"},"encoding":{"text":{"value":")"}}}
]}
]
}
